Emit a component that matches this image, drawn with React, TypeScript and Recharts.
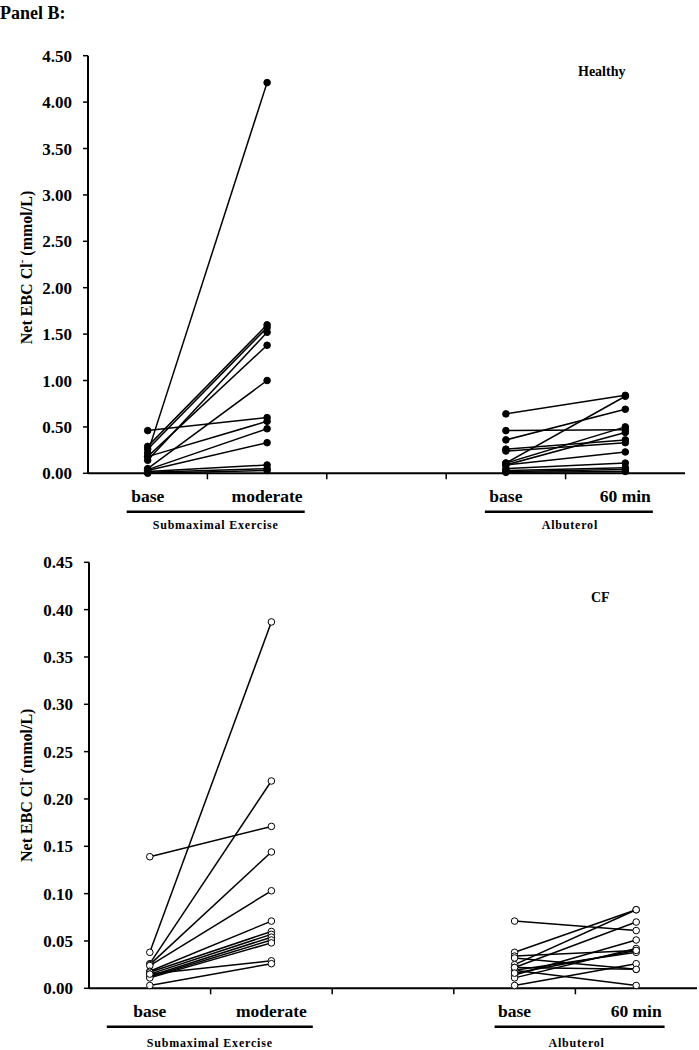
import React from 'react';
import { LineChart, Line, XAxis, YAxis } from 'recharts';

const FONT = '"Liberation Serif", "Times New Roman", serif';

// x categories (centred at index + 0.5), the middle one is an empty gap
const categories = ['base', 'moderate', '', 'base', '60 min'];
const groupLabels = ['Submaximal Exercise', 'Albuterol'];

// Healthy subjects
const healthyExBase = [0.46, 0.22, 0.29, 0.26, 0.14, 0.18, 0.05, 0.18, 0.04, 0.03, 0.02, 0.01, 0.0];
const healthyExModerate = [0.6, 4.21, 1.6, 1.57, 1.52, 1.38, 1.0, 0.56, 0.48, 0.33, 0.09, 0.05, 0.03];
const healthyAlbBase = [0.64, 0.46, 0.36, 0.26, 0.24, 0.11, 0.11, 0.09, 0.09, 0.05, 0.03, 0.02, 0.01];
const healthyAlb60 = [0.84, 0.47, 0.69, 0.36, 0.33, 0.83, 0.5, 0.44, 0.23, 0.11, 0.06, 0.04, 0.02];
const healthyTicks = [0, 0.5, 1, 1.5, 2, 2.5, 3, 3.5, 4, 4.5];

// CF subjects
const cfExBase = [0.139, 0.038, 0.026, 0.025, 0.024, 0.018, 0.017, 0.015, 0.013, 0.012, 0.011, 0.015, 0.003];
const cfExModerate = [0.171, 0.387, 0.219, 0.144, 0.103, 0.071, 0.06, 0.057, 0.054, 0.051, 0.048, 0.029, 0.026];
const cfAlbBase = [0.071, 0.038, 0.034, 0.032, 0.025, 0.022, 0.019, 0.014, 0.011, 0.003, 0.019, 0.022, 0.016];
const cfAlb60 = [0.061, 0.083, 0.04, 0.02, 0.083, 0.07, 0.003, 0.051, 0.042, 0.026, 0.038, 0.02, 0.04];
const cfTicks = [0, 0.05, 0.1, 0.15, 0.2, 0.25, 0.3, 0.35, 0.4, 0.45];

const xTicks = [0.5, 1, 1.5, 2, 3, 3.5, 4, 4.5];

const makePairs = (a: number[], b: number[], ia: number, ib: number) =>
  a.map((v, k) => [
    { x: ia + 0.5, y: v },
    { x: ib + 0.5, y: b[k] },
  ]);

type GroupConf = { left: number; right: number; text: number };

const XTick = (props: any) => {
  const { x, y, payload, groups } = props;
  const v = payload.value as number;
  if (Number.isInteger(v)) {
    return <line x1={x} x2={x} y1={y} y2={y + 6} stroke="#000" strokeWidth={1.5} />;
  }
  const idx = Math.floor(v);
  const g = idx === 0 ? 0 : idx === 3 ? 1 : -1;
  const conf: GroupConf | undefined = g >= 0 ? groups[g] : undefined;
  return (
    <g>
      <text x={x} y={y + 29} textAnchor="middle" fontFamily={FONT} fontWeight="bold" fontSize={17.5} fill="#000">
        {categories[idx]}
      </text>
      {conf && (
        <g>
          <line x1={x + conf.left} x2={x + conf.right} y1={y + 38.5} y2={y + 38.5} stroke="#000" strokeWidth={2.5} />
          <text x={x + conf.text} y={y + props.groupY} textAnchor="middle" fontFamily={FONT} fontWeight="bold" fontSize={12} letterSpacing={0.8} fill="#000">
            {groupLabels[g]}
          </text>
        </g>
      )}
    </g>
  );
};

const YLabel = (props: any) => {
  const vb = props.viewBox;
  const cx = vb.x + 28;
  const cy = vb.y + vb.height / 2 + props.shift;
  return (
    <text x={cx} y={cy} transform={`rotate(-90, ${cx}, ${cy})`} textAnchor="middle" dominantBaseline="middle" fontFamily={FONT} fontWeight="bold" fontSize={16} fill="#000">
      Net EBC Cl
      <tspan dy={-6} fontSize={11}>-</tspan>
      <tspan dy={6}> (mmol/L)</tspan>
    </text>
  );
};

interface PanelProps {
  top: number;
  height: number;
  margin: { top: number; right: number; left: number; bottom: number };
  yWidth: number;
  xHeight: number;
  yTicks: number[];
  lines: { x: number; y: number }[][];
  filled: boolean;
  groups: GroupConf[];
  groupY: number;
  labelShift: number;
}

const Panel = ({ top, height, margin, yWidth, xHeight, yTicks, lines, filled, groups, groupY, labelShift }: PanelProps) => (
  <div style={{ position: 'absolute', left: 0, top }}>
    <LineChart width={699} height={height} margin={margin}>
      <XAxis
        dataKey="x"
        type="number"
        domain={[0, 5]}
        ticks={xTicks}
        interval={0}
        tickSize={0}
        tickMargin={0}
        tickLine={false}
        height={xHeight}
        axisLine={{ stroke: '#000', strokeWidth: 2 }}
        tick={(p: any) => <XTick {...p} groups={groups} groupY={groupY} />}
      />
      <YAxis
        type="number"
        domain={[yTicks[0], yTicks[yTicks.length - 1]]}
        ticks={yTicks}
        interval={0}
        width={yWidth}
        tickSize={5}
        tickMargin={11}
        tickFormatter={(v: number) => v.toFixed(2)}
        axisLine={{ stroke: '#000', strokeWidth: 2 }}
        tickLine={{ stroke: '#000', strokeWidth: 1.5 }}
        tick={{ fontFamily: FONT, fontWeight: 'bold', fontSize: 17, fill: '#000' }}
        label={(p: any) => <YLabel {...p} shift={labelShift} />}
      />
      {lines.map((d, i) => (
        <Line
          key={i}
          data={d}
          dataKey="y"
          stroke="#000"
          strokeWidth={1.5}
          dot={{ r: 3.3, fill: filled ? '#000' : '#fff', stroke: '#000', strokeWidth: 1 }}
          activeDot={false}
          isAnimationActive={false}
        />
      ))}
    </LineChart>
  </div>
);

const textStyle: React.CSSProperties = {
  position: 'absolute',
  fontFamily: FONT,
  fontWeight: 'bold',
  color: '#000',
  lineHeight: 1,
  whiteSpace: 'nowrap',
};

export default function App() {
  const healthyLines = [
    ...makePairs(healthyExBase, healthyExModerate, 0, 1),
    ...makePairs(healthyAlbBase, healthyAlb60, 3, 4),
  ];
  const cfLines = [
    ...makePairs(cfExBase, cfExModerate, 0, 1),
    ...makePairs(cfAlbBase, cfAlb60, 3, 4),
  ];
  return (
    <div style={{ position: 'absolute', left: 0, top: 0, width: 699, height: 1050, background: '#fff', overflow: 'hidden' }}>
      <div style={{ ...textStyle, left: 0, top: 4, fontSize: 18 }}>Panel B:</div>
      <div style={{ ...textStyle, left: 578, top: 65, fontSize: 14 }}>Healthy</div>
      <div style={{ ...textStyle, left: 591, top: 591, fontSize: 14 }}>CF</div>
      <Panel
        top={0}
        height={540}
        margin={{ top: 55.7, right: 14, left: 0, bottom: 0 }}
        yWidth={88}
        xHeight={66.7}
        yTicks={healthyTicks}
        lines={healthyLines}
        filled
        groups={[
          { left: -21, right: 157, text: 68 },
          { left: -21, right: 147, text: 64 },
        ]}
        groupY={56}
        labelShift={3}
      />
      <Panel
        top={530}
        height={520}
        margin={{ top: 32.3, right: 2, left: 0, bottom: 0 }}
        yWidth={89}
        xHeight={61.7}
        yTicks={cfTicks}
        lines={cfLines}
        filled={false}
        groups={[
          { left: -43, right: 163, text: 60 },
          { left: -20, right: 150, text: 62 },
        ]}
        groupY={59}
        labelShift={10}
      />
    </div>
  );
}
